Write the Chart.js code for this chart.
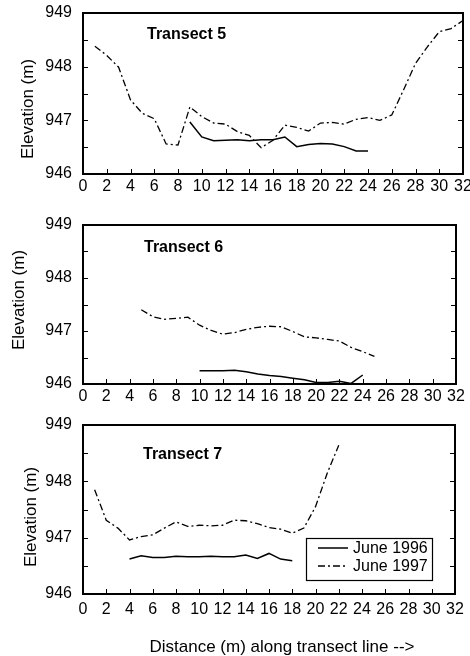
<!DOCTYPE html>
<html>
<head>
<meta charset="utf-8">
<script src="https://cdn.jsdelivr.net/npm/chart.js@4.4.1/dist/chart.umd.min.js"></script>
<style>
html, body { margin: 0; padding: 0; background: #fff; }
#wrap { position: relative; width: 470px; height: 656px; overflow: hidden; font-family: "Liberation Sans", Arial, sans-serif; color: #000; }
canvas { position: absolute; left: 0; }
.ytitle { position: absolute; font-size: 17px; white-space: nowrap; transform: translate(-50%, -50%) rotate(-90deg); }
.ptitle { position: absolute; font-size: 16px; font-weight: bold; white-space: nowrap; transform: translateY(-50%); }
.xtitle { position: absolute; font-size: 17px; white-space: nowrap; transform: translate(-50%, -50%); }
</style>
</head>
<body>
<div id="wrap">
    <canvas id="c5" width="470" height="205" style="top:0px"></canvas>
    <canvas id="c6" width="470" height="210" style="top:205px"></canvas>
    <canvas id="c7" width="470" height="241" style="top:415px"></canvas>

    <div class="ytitle" style="left:28px; top:109px">Elevation (m)</div>
    <div class="ytitle" style="left:19px; top:300px">Elevation (m)</div>
    <div class="ytitle" style="left:31px; top:517px">Elevation (m)</div>

    <div class="ptitle" style="left:147px; top:34px">Transect 5</div>
    <div class="ptitle" style="left:144px; top:247px">Transect 6</div>
    <div class="ptitle" style="left:143px; top:454px">Transect 7</div>

    <div class="xtitle" style="left:282px; top:647px">Distance (m) along transect line --&gt;</div>
</div>

<script>
// series labels
const seriesNames = ['June 1996', 'June 1997'];

// Transect 5
const t5Dist96 = [9, 10, 11, 12, 13, 14, 15, 16, 17, 18, 19, 20, 21, 22, 23, 24];
const t5Elev96 = [946.97, 946.69, 946.62, 946.63, 946.64, 946.62, 946.64, 946.64, 946.69, 946.51, 946.55, 946.57, 946.56, 946.51, 946.43, 946.43];
const t5Dist97 = [1, 2, 3, 4, 5, 6, 7, 8, 9, 10, 11, 12, 13, 14, 15, 16, 17, 18, 19, 20, 21, 22, 23, 24, 25, 26, 27, 28, 29, 30, 31, 32];
const t5Elev97 = [948.38, 948.21, 947.99, 947.38, 947.13, 947.03, 946.56, 946.54, 947.25, 947.07, 946.95, 946.93, 946.79, 946.72, 946.49, 946.63,
                  946.91, 946.87, 946.80, 946.95, 946.96, 946.93, 947.02, 947.05, 947.00, 947.10, 947.57, 948.06, 948.37, 948.65, 948.71, 948.86];

// Transect 6
const t6Dist96 = [10, 11, 12, 13, 14, 15, 16, 17, 18, 19, 20, 21, 22, 23, 24];
const t6Elev96 = [946.25, 946.25, 946.25, 946.26, 946.23, 946.19, 946.16, 946.14, 946.11, 946.08, 946.03, 946.03, 946.05, 946.01, 946.17];
const t6Dist97 = [5, 6, 7, 8, 9, 10, 11, 12, 13, 14, 15, 16, 17, 18, 19, 20, 21, 22, 23, 24, 25];
const t6Elev97 = [947.40, 947.27, 947.22, 947.24, 947.26, 947.11, 947.01, 946.94, 946.97, 947.03, 947.07, 947.09, 947.08, 946.99, 946.89,
                  946.87, 946.84, 946.81, 946.69, 946.61, 946.52];

// Transect 7
const t7Dist96 = [4, 5, 6, 7, 8, 9, 10, 11, 12, 13, 14, 15, 16, 17, 18];
const t7Elev96 = [946.62, 946.68, 946.65, 946.65, 946.67, 946.66, 946.66, 946.67, 946.66, 946.66, 946.69, 946.63, 946.72, 946.62, 946.59];
const t7Dist97 = [1, 2, 3, 4, 5, 6, 7, 8, 9, 10, 11, 12, 13, 14, 15, 16, 17, 18, 19, 20, 21, 22];
const t7Elev97 = [947.85, 947.31, 947.17, 946.96, 947.02, 947.05, 947.17, 947.28, 947.20, 947.22, 947.21, 947.22, 947.31, 947.30, 947.25,
                  947.18, 947.15, 947.08, 947.17, 947.55, 948.14, 948.64];

// axes
const xMin = 0, xMax = 32, xStep = 2;
const yMin = 946, yMax = 949, yStep = 0.5;

const FONT = "'Liberation Sans', Arial, sans-serif";
const DASH_DOT = [7, 3, 2, 3];

function toPoints(xs, ys) {
    return xs.map((x, i) => ({ x: x, y: ys[i] }));
}

// box round the plot with inward ticks
const framePlugin = {
    id: 'frame',
    afterDatasetsDraw(chart) {
        const { ctx, chartArea: a, scales: { x, y } } = chart;
        ctx.save();
        ctx.strokeStyle = '#000';
        ctx.lineWidth = 2;
        ctx.strokeRect(a.left, a.top, a.right - a.left, a.bottom - a.top);
        ctx.lineWidth = 1;
        ctx.beginPath();
        x.ticks.forEach(t => {
            const px = Math.round(x.getPixelForValue(t.value)) + 0.5;
            ctx.moveTo(px, a.bottom); ctx.lineTo(px, a.bottom - 5);
        });
        y.ticks.forEach(t => {
            const py = Math.round(y.getPixelForValue(t.value)) + 0.5;
            ctx.moveTo(a.left, py); ctx.lineTo(a.left + 5, py);
            ctx.moveTo(a.right, py); ctx.lineTo(a.right - 5, py);
        });
        ctx.stroke();
        ctx.restore();
    }
};

// legend box inside transect 7
const legendPlugin = {
    id: 'boxLegend',
    afterDraw(chart) {
        const ctx = chart.ctx;
        const bx = 306, by = 123, bw = 126, bh = 42;
        ctx.save();
        ctx.fillStyle = '#fff';
        ctx.fillRect(bx, by, bw, bh);
        ctx.strokeStyle = '#000';
        ctx.lineWidth = 1.2;
        ctx.strokeRect(bx + 0.5, by + 0.5, bw, bh);
        chart.data.datasets.forEach((ds, i) => {
            const ly = by + 10 + i * 18;
            ctx.beginPath();
            ctx.setLineDash(ds.borderDash || []);
            ctx.lineWidth = ds.borderWidth;
            ctx.strokeStyle = ds.borderColor;
            ctx.moveTo(bx + 12, ly); ctx.lineTo(bx + 42, ly);
            ctx.stroke();
            ctx.setLineDash([]);
            ctx.fillStyle = '#000';
            ctx.font = '16px ' + FONT;
            ctx.textBaseline = 'middle';
            ctx.fillText(ds.label, bx + 47, ly + 1);
        });
        ctx.restore();
    }
};

function makePanel(id, d96, e96, d97, e97, opt) {
    const extra = [framePlugin];
    if (opt.legend) extra.push(legendPlugin);
    return new Chart(document.getElementById(id), {
        type: 'line',
        data: {
            datasets: [
                { label: seriesNames[0], data: toPoints(d96, e96), borderColor: '#000', borderWidth: 1.5,
                  pointRadius: 0, tension: 0, fill: false },
                { label: seriesNames[1], data: toPoints(d97, e97), borderColor: '#000', borderWidth: 1.3,
                  borderDash: DASH_DOT, pointRadius: 0, tension: 0, fill: false }
            ]
        },
        options: {
            responsive: false,
            animation: false,
            layout: { padding: { top: opt.top, right: opt.right, left: 0, bottom: 0 } },
            scales: {
                x: {
                    type: 'linear', min: xMin, max: xMax,
                    grid: { display: false, drawTicks: false }, border: { display: false },
                    ticks: { stepSize: xStep, autoSkip: false, maxRotation: 0, color: '#000',
                             font: { family: FONT, size: 16 }, padding: opt.xPad },
                    afterFit: s => { s.height = opt.xh; s.paddingLeft = 0; s.paddingRight = 0; }
                },
                y: {
                    min: yMin, max: yMax,
                    grid: { display: false, drawTicks: false }, border: { display: false },
                    ticks: { stepSize: yStep, color: '#000', font: { family: FONT, size: 16 }, padding: 11,
                             callback: v => (v % 1 === 0 ? String(v) : '') },
                    afterFit: s => { s.width = 83; s.paddingTop = 0; s.paddingBottom = 0; }
                }
            },
            plugins: { legend: { display: false }, tooltip: { enabled: false } }
        },
        plugins: extra
    });
}

makePanel('c5', t5Dist96, t5Elev96, t5Dist97, t5Elev97, { top: 13, right: 7, xh: 31, xPad: 3 });
makePanel('c6', t6Dist96, t6Elev96, t6Dist97, t6Elev97, { top: 20, right: 14, xh: 31, xPad: 3 });
makePanel('c7', t7Dist96, t7Elev96, t7Dist97, t7Elev97, { top: 10, right: 15, xh: 62, xPad: 6, legend: true });
</script>
</body>
</html>
